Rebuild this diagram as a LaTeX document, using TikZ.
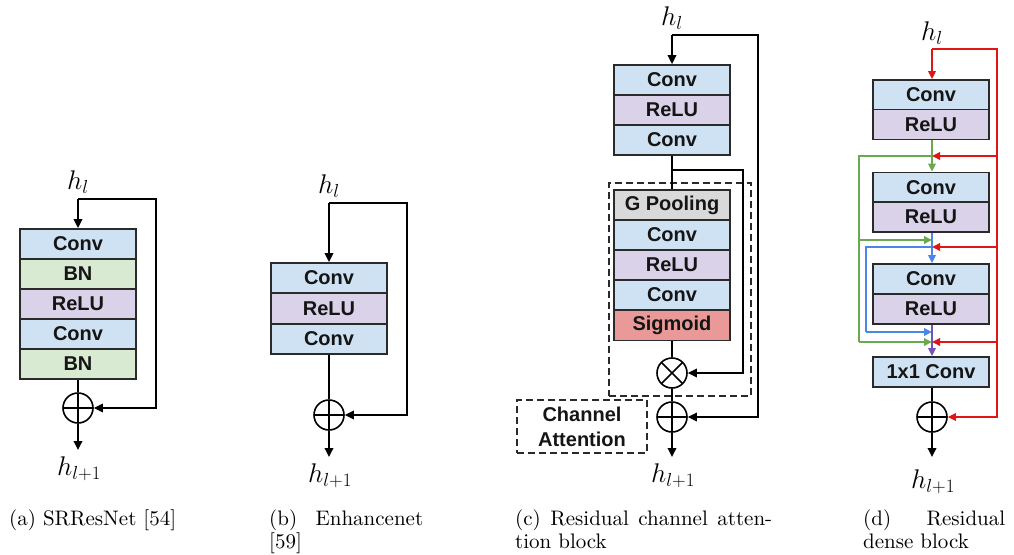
\RequirePackage{fix-cm}
\documentclass[tikz,border=0pt]{standalone}
\usepackage{fontspec}
\setsansfont{Liberation Sans}
\newfontfamily\capfont{lmroman10-regular.otf}
\usetikzlibrary{arrows.meta}
\definecolor{convfill}{HTML}{CFE2F3}
\definecolor{bnfill}{HTML}{D9EAD3}
\definecolor{relufill}{HTML}{D9D2E9}
\definecolor{poolfill}{HTML}{D9D9D9}
\definecolor{sigfill}{HTML}{E99A98}
\definecolor{bordc}{HTML}{2A2A2A}
\definecolor{txtc}{HTML}{151515}
\definecolor{rdc}{HTML}{E01515}
\definecolor{grc}{HTML}{6AAA4F}
\definecolor{blc}{HTML}{4A86E8}
\definecolor{puc}{HTML}{6F55B5}
\tikzset{
  blk/.style={draw=bordc, line width=1.8pt, minimum width=116pt, minimum height=30pt,
    inner sep=0pt, font=\sffamily\bfseries\fontsize{20}{20}\selectfont, text=txtc},
  convs/.style={blk, fill=convfill},
  bns/.style={blk, fill=bnfill},
  relus/.style={blk, fill=relufill},
  pools/.style={blk, fill=poolfill},
  sigs/.style={blk, fill=sigfill},
  op/.style={circle, draw=black, line width=1.6pt, minimum size=30pt, inner sep=0pt},
  plusop/.style={op, path picture={\draw[line width=1.6pt]
      (path picture bounding box.north) -- (path picture bounding box.south)
      (path picture bounding box.west) -- (path picture bounding box.east);}},
  timesop/.style={op, path picture={\draw[line width=1.6pt]
      (path picture bounding box.north west) -- (path picture bounding box.south east)
      (path picture bounding box.north east) -- (path picture bounding box.south west);}},
  conn/.style={line width=1.8pt, draw=black},
  arr/.style={conn, -{Triangle[length=9pt,width=8.5pt]}},
  carr/.style={line width=1.8pt, -{Triangle[length=8pt,width=7.5pt]}},
  cline/.style={line width=1.8pt},
  mathlbl/.style={font=\fontsize{27}{30}\selectfont, inner sep=0pt, anchor=base},
  capstyle/.style={font=\capfont\fontsize{21}{23}\selectfont, anchor=base west, inner sep=0pt},
  dashbox/.style={draw=bordc, line width=1.6pt, dash pattern=on 7pt off 4pt},
}
\begin{document}
\begin{tikzpicture}[x=1pt, y=-1pt]
\useasboundingbox (0,0) rectangle (1014,554);

% ---------------- (a) SRResNet
\node[convs] (a1) at (78,244) {Conv};
\node[bns]   (a2) at (78,274) {BN};
\node[relus] (a3) at (78,304) {ReLU};
\node[convs] (a4) at (78,334) {Conv};
\node[bns]   (a5) at (78,364) {BN};
\node[plusop] (ap) at (78,408) {};
\node[mathlbl] (ahl) at (78,189) {$h_l$};
\node[mathlbl] (aho) at (79,475) {$h_{l+1}$};
\coordinate (as) at (78,199);
\coordinate (ar1) at (156,199);
\coordinate (ar2) at (156,408);
\coordinate (ae) at (78,450);
\draw[arr] (as) -- (a1.north);
\draw[arr] (as) -- (ar1) -- (ar2) -- (ap.east);
\draw[conn] (a5.south) -- (ap.north);
\draw[arr] (ap.south) -- (ae);

% ---------------- (b) Enhancenet
\node[convs] (b1) at (329,278) {Conv};
\node[relus] (b2) at (329,308.5) {ReLU};
\node[convs] (b3) at (329,339) {Conv};
\node[plusop] (bp) at (329,415) {};
\node[mathlbl] (bhl) at (329,193) {$h_l$};
\node[mathlbl] (bho) at (330,482) {$h_{l+1}$};
\coordinate (bs) at (329,203);
\coordinate (br1) at (407,203);
\coordinate (br2) at (407,415);
\coordinate (be) at (329,457);
\draw[arr] (bs) -- (b1.north);
\draw[arr] (bs) -- (br1) -- (br2) -- (bp.east);
\draw[conn] (b3.south) -- (bp.north);
\draw[arr] (bp.south) -- (be);

% ---------------- (c) Residual channel attention block
\node[dashbox, minimum width=142pt, minimum height=213pt] (cab) at (680,289.5) {};
\node[dashbox, minimum width=130pt, minimum height=53pt, align=center,
      font=\sffamily\bfseries\fontsize{20}{25}\selectfont, text=txtc, inner sep=0pt]
      (cal) at (582,426.5) {Channel\\Attention};
\node[convs] (c1) at (672,80) {Conv};
\node[relus] (c2) at (672,110) {ReLU};
\node[convs] (c3) at (672,140) {Conv};
\node[pools] (c4) at (672,205) {G Pooling};
\node[convs] (c5) at (672,235) {Conv};
\node[relus] (c6) at (672,265) {ReLU};
\node[convs] (c7) at (672,295) {Conv};
\node[sigs]  (c8) at (672,325.5) {Sigmoid};
\node[timesop] (cx) at (672,373) {};
\node[plusop] (cp) at (672,417) {};
\node[mathlbl] (chl) at (672,25) {$h_l$};
\node[mathlbl] (cho) at (673,482) {$h_{l+1}$};
\coordinate (cs) at (672,35);
\coordinate (cr1) at (758,35);
\coordinate (cr2) at (758,417);
\coordinate (cb) at (672,170);
\coordinate (cb1) at (743,170);
\coordinate (cb2) at (743,373);
\coordinate (ce) at (672,457);
\draw[arr] (cs) -- (c1.north);
\draw[arr] (cs) -- (cr1) -- (cr2) -- (cp.east);
\draw[conn] (c3.south) -- (c4.north);
\draw[arr] (cb) -- (cb1) -- (cb2) -- (cx.east);
\draw[conn] (c8.south) -- (cx.north);
\draw[conn] (cx.south) -- (cp.north);
\draw[arr] (cp.south) -- (ce);

% ---------------- (d) Residual dense block
\node[convs] (d1) at (931,95) {Conv};
\node[relus] (d2) at (931,124.5) {ReLU};
\node[convs] (d3) at (931,187.5) {Conv};
\node[relus] (d4) at (931,217) {ReLU};
\node[convs] (d5) at (931,279) {Conv};
\node[relus] (d6) at (931,309) {ReLU};
\node[convs] (d7) at (931,372) {1x1 Conv};
\node[plusop] (dp) at (932,417) {};
\node[mathlbl] (dhl) at (932,40) {$h_l$};
\node[mathlbl] (dho) at (933,488) {$h_{l+1}$};
\coordinate (ds) at (932,49);
\coordinate (dr1) at (997,49);
\coordinate (dr2) at (997,417);
\coordinate (drA) at (997,156);
\coordinate (drB) at (997,247);
\coordinate (drC) at (997,342);
\coordinate (dcA) at (932,156);
\coordinate (dcB) at (932,247);
\coordinate (dcC) at (932,342);
\coordinate (dcG) at (932,240);
\coordinate (dcU) at (932,332);
\coordinate (dg1) at (859,156);
\coordinate (dg2) at (859,240);
\coordinate (dg3) at (859,342);
\coordinate (db1) at (866,247);
\coordinate (db2) at (866,332);
\coordinate (de) at (932,457);
% green
\draw[cline, grc] (dcA) -- (dg1) -- (dg3);
\draw[carr, grc] (dg2) -- (dcG);
\draw[carr, grc] (dg3) -- (dcC);
\draw[carr, grc] (d2.south -| dcA) -- (d3.north -| dcA);
% blue
\draw[cline, blc] (dcB) -- (db1) -- (db2);
\draw[carr, blc] (db2) -- (dcU);
\draw[carr, blc] (d4.south -| dcA) -- (d5.north -| dcA);
% purple
\draw[carr, puc] (d6.south -| dcA) -- (d7.north -| dcA);
% red
\draw[carr, rdc] (ds) -- (d1.north -| ds);
\draw[carr, rdc] (ds) -- (dr1) -- (dr2) -- (dp.east);
\draw[carr, rdc] (drA) -- (dcA);
\draw[carr, rdc] (drB) -- (dcB);
\draw[carr, rdc] (drC) -- (dcC);
% black
\draw[conn] (d7.south -| dp) -- (dp.north);
\draw[arr] (dp.south) -- (de);

% ---------------- captions
\node[capstyle] (capa) at (9,525) {(a) SRResNet [54]};
\node[capstyle] (capb) at (269,525) {\vtop{\hbox to 154pt{(b)\hfill Enhancenet}\hbox{[59]}}};
\node[capstyle] (capc) at (515,525) {\vtop{\hbox to 257pt{(c) Residual channel atten-}\hbox{tion block}}};
\node[capstyle] (capd) at (863,525) {\vtop{\hbox to 142pt{(d)\hfill Residual}\hbox{dense block}}};
\end{tikzpicture}
\end{document}
